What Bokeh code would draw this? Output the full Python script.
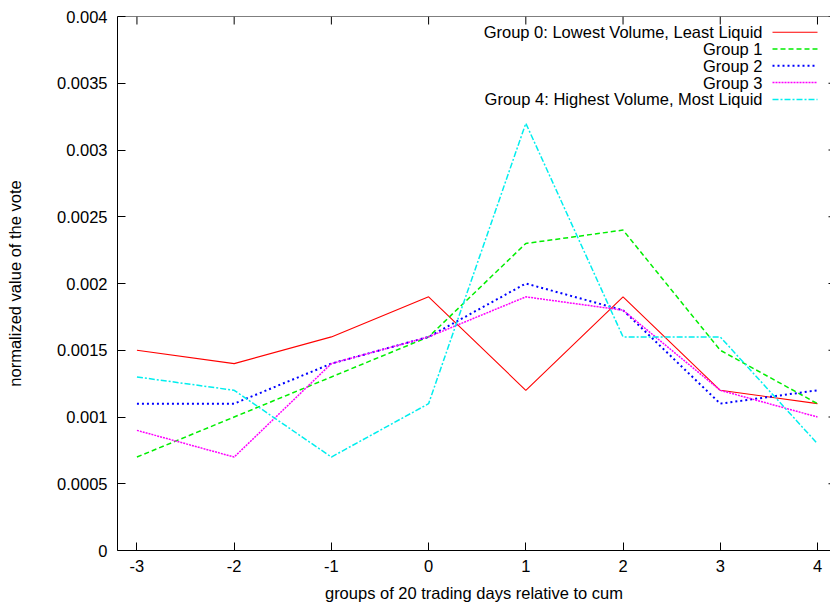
from bokeh.plotting import figure
from bokeh.models import FixedTicker, Range1d, Span
from bokeh.embed import file_html
from bokeh.resources import INLINE
from bokeh.core.properties import value

# ---- data ----
x_groups = [-3, -2, -1, 0, 1, 2, 3, 4]
group0 = [0.0015, 0.0014, 0.0016, 0.0019, 0.0012, 0.0019, 0.0012, 0.0011]
group1 = [0.0007, 0.0010, 0.0013, 0.0016, 0.0023, 0.0024, 0.0015, 0.0011]
group2 = [0.0011, 0.0011, 0.0014, 0.0016, 0.0020, 0.0018, 0.0011, 0.0012]
group3 = [0.0009, 0.0007, 0.0014, 0.0016, 0.0019, 0.0018, 0.0012, 0.0010]
group4 = [0.0013, 0.0012, 0.0007, 0.0011, 0.0032, 0.0016, 0.0016, 0.0008]
series_names = [
    "Group 0: Lowest Volume, Least Liquid",
    "Group 1",
    "Group 2",
    "Group 3",
    "Group 4: Highest Volume, Most Liquid",
]
x_ticks = [-3, -2, -1, 0, 1, 2, 3, 4]
x_tick_labels = ["-3", "-2", "-1", "0", "1", "2", "3", "4"]
y_ticks = [0, 0.0005, 0.001, 0.0015, 0.002, 0.0025, 0.003, 0.0035, 0.004]
y_tick_labels = ["0", "0.0005", "0.001", "0.0015", "0.002", "0.0025", "0.003", "0.0035", "0.004"]

FONT = "Liberation Sans"
FS = "16.5px"

W, H = 830, 604
L, T, B = 117, 16, 550
X0, X1 = -3.2, 4.134
Y0, Y1 = 0.0, 0.004

p = figure(width=W, height=H, output_backend="svg", toolbar_location=None,
           x_range=Range1d(X0, X1), y_range=Range1d(Y0, Y1),
           min_border_left=L, min_border_right=0, min_border_top=T,
           min_border_bottom=H - B, x_axis_location="below")
p.outline_line_color = None
p.grid.visible = False
p.background_fill_color = "white"
p.border_fill_color = "white"

def style_axis(ax):
    ax.axis_line_color = "black"
    ax.axis_line_width = 1
    ax.major_tick_in = 8
    ax.major_tick_out = 0
    ax.major_tick_line_color = "black"
    ax.minor_tick_line_color = None
    ax.major_label_text_font = FONT
    ax.major_label_text_font_size = FS
    ax.major_label_text_color = "black"
    ax.axis_label_text_font = FONT
    ax.axis_label_text_font_size = FS
    ax.axis_label_text_font_style = "normal"
    ax.axis_label_text_color = "black"

xa = p.xaxis[0]
xa.ticker = FixedTicker(ticks=x_ticks)
xa.major_label_overrides = {t: s for t, s in zip(x_ticks, x_tick_labels)}
xa.axis_label = "groups of 20 trading days relative to cum"
style_axis(xa)
xa.major_label_standoff = 9
xa.axis_label_standoff = 9

ya = p.yaxis[0]
ya.ticker = FixedTicker(ticks=y_ticks)
ya.major_label_overrides = {t: s for t, s in zip(y_ticks, y_tick_labels)}
ya.axis_label = "normalized value of the vote"
style_axis(ya)
ya.major_label_standoff = 10
ya.axis_label_standoff = 30

# pixel -> data helpers (for frame decorations and legend placement)
FW = W - L
def px2x(px):
    return X0 + (px - L) / FW * (X1 - X0)
def py2y(py):
    return Y0 + (B - py) / (B - T) * (Y1 - Y0)

# top border with mirrored inward ticks (gnuplot style)
p.add_layout(Span(location=Y1, dimension="width", line_color="black", line_width=1))
tick_len_y = (Y1 - Y0) * 8 / (B - T)
p.segment(x0=x_ticks, y0=[Y1] * len(x_ticks), x1=x_ticks, y1=[Y1 - tick_len_y] * len(x_ticks),
          line_color="black", line_width=1)
# mirrored right ticks (frame edge lies just outside the window)
p.segment(x0=[px2x(828)] * len(y_ticks), y0=y_ticks, x1=[X1] * len(y_ticks), y1=y_ticks,
          line_color="black", line_width=1)

styles = [
    dict(color="#ff0000", dash="solid", width=1.1),
    dict(color="#00ee00", dash="5 3", width=1.5),
    dict(color="#0000ff", dash="2 3", width=2),
    dict(color="#ff00ff", dash="2 1", width=1.5),
    dict(color="#00eeee", dash="6 2 2 2", width=1.5),
]
series = [group0, group1, group2, group3, group4]

for vals, st in zip(series, styles):
    p.line(x_groups, vals, line_color=st["color"], line_dash=st["dash"], line_width=st["width"])

# ---- legend (gnuplot style: text then sample) ----
row_y = [31.7 + 16.8 * i for i in range(len(series_names))]
for name, st, ry in zip(series_names, styles, row_y):
    p.text(x=[px2x(762)], y=[py2y(ry)], text=[name], text_align="right",
           text_baseline="middle", text_font=value(FONT), text_font_size=FS,
           text_color="black")
    p.line([px2x(772), px2x(817)], [py2y(ry), py2y(ry)], line_color=st["color"],
           line_dash=st["dash"], line_width=st["width"])

open("out.html", "w").write(file_html(p, INLINE))
